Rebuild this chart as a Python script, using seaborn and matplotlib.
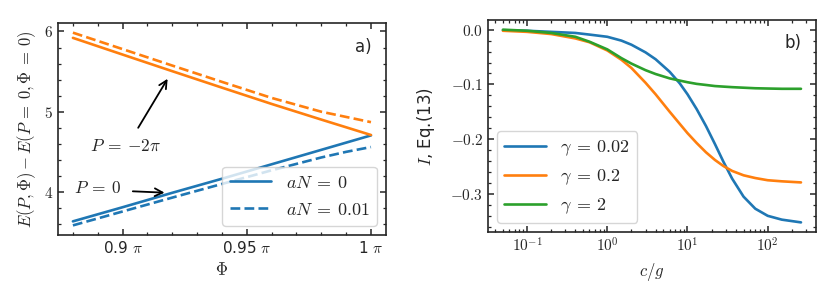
import numpy as np
import pandas as pd
import matplotlib
matplotlib.use("Agg")
import matplotlib.pyplot as plt
from matplotlib.ticker import MultipleLocator, FuncFormatter, NullFormatter
from matplotlib.lines import Line2D
import seaborn as sns

# -----------------------
# DATOS PANEL a)
# -----------------------
phi = [0.88, 0.90, 0.92, 0.94, 0.96, 0.98, 0.99, 1.00]   # en unidades de pi
E_p0_an0 = [3.634, 3.81, 3.99, 4.165, 4.345, 4.525, 4.615, 4.705]
E_p0_an001 = [3.584, 3.757, 3.93, 4.10, 4.27, 4.43, 4.50, 4.56]
E_p2pi_an0 = [5.92, 5.712, 5.505, 5.30, 5.097, 4.902, 4.806, 4.71]
E_p2pi_an001 = [5.985, 5.78, 5.575, 5.372, 5.172, 5.00, 4.935, 4.87]

# -----------------------
# DATOS PANEL b)
# -----------------------
cg = [0.05, 0.1, 0.2, 0.4, 0.6, 1, 1.5, 2, 3, 4, 6, 8, 10, 13, 17, 22,
      28, 36, 50, 70, 100, 150, 260]
I_g002 = [-0.001, -0.002, -0.004, -0.006, -0.009, -0.013, -0.020, -0.0275,
          -0.0415, -0.054, -0.077, -0.098, -0.118, -0.145, -0.176, -0.209,
          -0.241, -0.272, -0.305, -0.327, -0.340, -0.347, -0.352]
I_g02 = [-0.002, -0.004, -0.008, -0.016, -0.023, -0.038, -0.055, -0.070,
         -0.097, -0.118, -0.150, -0.172, -0.189, -0.207, -0.224, -0.238,
         -0.249, -0.258, -0.266, -0.271, -0.275, -0.277, -0.279]
I_g2 = [0.000, -0.002, -0.006, -0.013, -0.022, -0.036, -0.052, -0.062,
        -0.074, -0.081, -0.089, -0.093, -0.096, -0.099, -0.101, -0.103,
        -0.104, -0.105, -0.106, -0.107, -0.1075, -0.108, -0.108]

blue, orange, green = "#1f77b4", "#ff7f0e", "#2ca02c"

sns.set_theme(style="ticks", rc={
    "mathtext.fontset": "cm",
    "axes.linewidth": 1.2,
    "xtick.direction": "in", "ytick.direction": "in",
    "xtick.major.size": 4.5, "ytick.major.size": 4.5,
    "xtick.minor.size": 2.5, "ytick.minor.size": 2.5,
    "xtick.major.width": 1.1, "ytick.major.width": 1.1,
    "xtick.minor.width": 0.9, "ytick.minor.width": 0.9,
    "xtick.labelsize": 11, "ytick.labelsize": 11,
    "axes.labelsize": 12,
})
plt.rcParams["font.family"] = ["DejaVu Sans"]

fig = plt.figure(figsize=(8.3, 2.99), dpi=100)
ax1 = fig.add_axes([0.0699, 0.214, 0.395, 0.709])
ax2 = fig.add_axes([0.588, 0.224, 0.395, 0.709])

# -----------------------
# PANEL a)
# -----------------------
df_a = pd.concat([
    pd.DataFrame({"phi": phi, "E": E_p0_an0, "P": "0", "aN": "0"}),
    pd.DataFrame({"phi": phi, "E": E_p0_an001, "P": "0", "aN": "0.01"}),
    pd.DataFrame({"phi": phi, "E": E_p2pi_an0, "P": "-2pi", "aN": "0"}),
    pd.DataFrame({"phi": phi, "E": E_p2pi_an001, "P": "-2pi", "aN": "0.01"}),
])
sns.lineplot(data=df_a, x="phi", y="E", hue="P", style="aN",
             palette={"0": blue, "-2pi": orange},
             dashes={"0": "", "0.01": (3.7, 1.6)},
             linewidth=1.9, legend=False, ax=ax1)

ax1.xaxis.set_major_locator(MultipleLocator(0.05))
ax1.xaxis.set_minor_locator(MultipleLocator(0.01))
ax1.yaxis.set_major_locator(MultipleLocator(1))
ax1.yaxis.set_minor_locator(MultipleLocator(0.2))
ax1.xaxis.set_major_formatter(FuncFormatter(lambda v, p: f"{v:g} $\\pi$"))
ax1.yaxis.set_major_formatter(FuncFormatter(lambda v, p: f"${v:g}$"))
ax1.tick_params(which="both", top=True, right=True)
ax1.set_xlabel(r"$\Phi$")
ax1.set_ylabel(r"$E(P,\Phi) - E(P\:=\:0,\Phi\:=\:0)$")

flecha = dict(arrowstyle="->", color="black", lw=1.3, mutation_scale=14)
ax1.annotate("", xy=(0.9187, 5.44), xytext=(0.9057, 4.77), arrowprops=flecha)
ax1.text(0.9012, 4.57, r"$P\:=\:{-2\pi}$", fontsize=12.5, ha="center", va="center")
ax1.annotate("", xy=(0.918, 3.99), xytext=(0.903, 4.01), arrowprops=flecha)
ax1.text(0.8898, 4.045, r"$P\:=\:0$", fontsize=12.5, ha="center", va="center")
ax1.text(0.957, 0.887, "a)", transform=ax1.transAxes, fontsize=12,
         ha="right", va="center")

handles_a = [Line2D([], [], color=blue, lw=1.9),
             Line2D([], [], color=blue, lw=1.9, linestyle=(0, (3.7, 1.6)))]
ax1.legend(handles_a, [r"$aN\:=\:0$", r"$aN\:=\:0.01$"], loc="lower right",
           fontsize=13, frameon=True, handlelength=2.3)

# -----------------------
# PANEL b)
# -----------------------
df_b = pd.concat([
    pd.DataFrame({"cg": cg, "I": I_g002, "gamma": "0.02"}),
    pd.DataFrame({"cg": cg, "I": I_g02, "gamma": "0.2"}),
    pd.DataFrame({"cg": cg, "I": I_g2, "gamma": "2"}),
])
sns.lineplot(data=df_b, x="cg", y="I", hue="gamma",
             palette={"0.02": blue, "0.2": orange, "2": green},
             linewidth=1.9, legend=False, ax=ax2)
ax2.set_xscale("log")
ax2.yaxis.set_major_locator(MultipleLocator(0.1))
ax2.yaxis.set_minor_locator(MultipleLocator(0.02))
ax2.yaxis.set_major_formatter(
    FuncFormatter(lambda v, p: f"${0.0 if abs(v) < 1e-9 else v:.1f}$"))
ax2.xaxis.set_major_formatter(
    FuncFormatter(lambda v, p: f"$10^{{{int(round(np.log10(v)))}}}$"))
ax2.xaxis.set_minor_formatter(NullFormatter())
ax2.tick_params(which="both", top=True, right=True)
ax2.set_xlabel(r"$c/g$")
ax2.set_ylabel(r"$I$, Eq.(13)", labelpad=10)
ax2.text(0.957, 0.894, "b)", transform=ax2.transAxes, fontsize=12,
         ha="right", va="center")

handles_b = [Line2D([], [], color=c, lw=1.9) for c in (blue, orange, green)]
ax2.legend(handles_b, [r"$\gamma\:=\:0.02$", r"$\gamma\:=\:0.2$", r"$\gamma\:=\:2$"],
           loc="lower left", fontsize=13, frameon=True, handlelength=2.3)

fig.savefig("out.png", dpi=100)
